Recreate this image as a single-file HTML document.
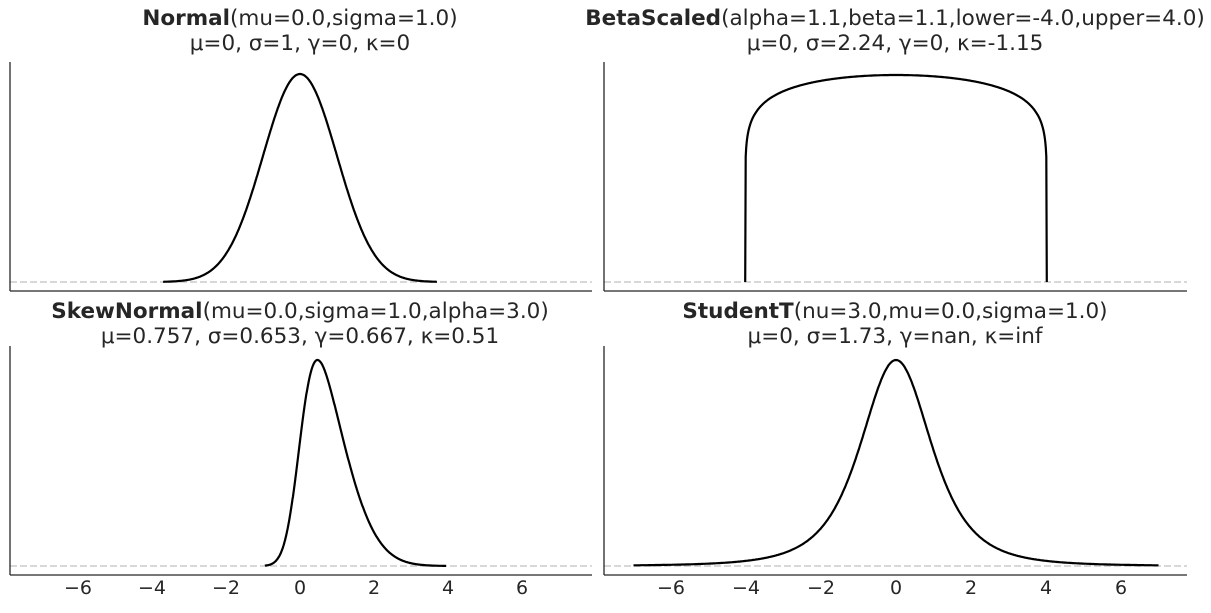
<!DOCTYPE html>
<html><head><meta charset="utf-8"><style>
body{margin:0;background:#fff;}
svg text{font-family:"DejaVu Sans","Liberation Sans",sans-serif;fill:#262626;}
</style></head><body>
<svg id="s" width="1211" height="608" xmlns="http://www.w3.org/2000/svg">
<text x="300" y="25" font-size="21.5" text-anchor="middle"><tspan font-weight="bold">Normal</tspan>(mu=0.0,sigma=1.0)</text>
<text x="300" y="50" font-size="21.5" text-anchor="middle">μ=0, σ=1, γ=0, κ=0</text>
<text x="895" y="25" font-size="21.5" text-anchor="middle"><tspan font-weight="bold">BetaScaled</tspan>(alpha=1.1,beta=1.1,lower=-4.0,upper=4.0)</text>
<text x="895" y="50" font-size="21.5" text-anchor="middle">μ=0, σ=2.24, γ=0, κ=-1.15</text>
<text x="300" y="318" font-size="21.5" text-anchor="middle"><tspan font-weight="bold">SkewNormal</tspan>(mu=0.0,sigma=1.0,alpha=3.0)</text>
<text x="300" y="343" font-size="21.5" text-anchor="middle">μ=0.757, σ=0.653, γ=0.667, κ=0.51</text>
<text x="895" y="318" font-size="21.5" text-anchor="middle"><tspan font-weight="bold">StudentT</tspan>(nu=3.0,mu=0.0,sigma=1.0)</text>
<text x="895" y="343" font-size="21.5" text-anchor="middle">μ=0, σ=1.73, γ=nan, κ=inf</text>
<g id="g"></g>
</svg>
<script>
var g=document.getElementById('g'),h='';
function erf(x){var s=x<0?-1:1;x=Math.abs(x);var t=1/(1+0.3275911*x);var y=1-(((((1.061405429*t-1.453152027)*t)+1.421413741)*t-0.284496736)*t+0.254829592)*t*Math.exp(-x*x);return s*y;}
function phi(x){return Math.exp(-x*x/2)/Math.sqrt(2*Math.PI);}
function Phi(x){return 0.5*(1+erf(x/Math.SQRT2));}
var panels=[
 {x0:300,k:37,L:10,R:592,top:62,ax:291,base:282,peak:74,a:-3.7,b:3.7,f:function(x){return phi(x);}},
 {x0:896,k:37.7,L:604,R:1187,top:62,ax:291,base:282,peak:75,a:-4,b:4,f:function(x){var u=(x+4)/8;if(u<=0||u>=1)return 0;return Math.pow(u*(1-u),0.1);}},
 {x0:300,k:37,L:10,R:592,top:346,ax:575,base:566,peak:360,a:-0.95,b:3.95,f:function(x){return 2*phi(x)*Phi(3*x);},ticks:1},
 {x0:896,k:37.5,L:604,R:1187,top:346,ax:575,base:566,peak:360,a:-7,b:7,f:function(x){return Math.pow(1+x*x/3,-2);},ticks:1}
];
panels.forEach(function(p){
 h+='<line x1="'+p.L+'" y1="'+p.base+'" x2="'+p.R+'" y2="'+p.base+'" stroke="#ccc" stroke-width="1.5" stroke-dasharray="7,3"/>';
 h+='<line x1="'+p.L+'" y1="'+p.top+'" x2="'+p.L+'" y2="'+p.ax+'" stroke="#262626" stroke-width="1.3"/>';
 h+='<line x1="'+p.L+'" y1="'+p.ax+'" x2="'+p.R+'" y2="'+p.ax+'" stroke="#262626" stroke-width="1.3"/>';
 var n=600,mx=0,vals=[];
 for(var i=0;i<=n;i++){var x=p.a+(p.b-p.a)*i/n;var v=p.f(x);vals.push([x,v]);if(v>mx)mx=v;}
 var d='';
 vals.forEach(function(q,i){var X=p.x0+q[0]*p.k,Y=p.base-(q[1]/mx)*(p.base-p.peak);d+=(i?'L':'M')+X.toFixed(1)+','+Y.toFixed(1);});
 h+='<path d="'+d+'" fill="none" stroke="#000" stroke-width="2.2"/>';
 if(p.ticks){[-6,-4,-2,0,2,4,6].forEach(function(t){var X=p.x0+t*p.k;h+='<text x="'+X+'" y="594" font-size="19" text-anchor="middle">'+(t<0?'\u2212'+(-t):t)+'</text>';});}
});
g.innerHTML=h;
</script>
</body></html>
